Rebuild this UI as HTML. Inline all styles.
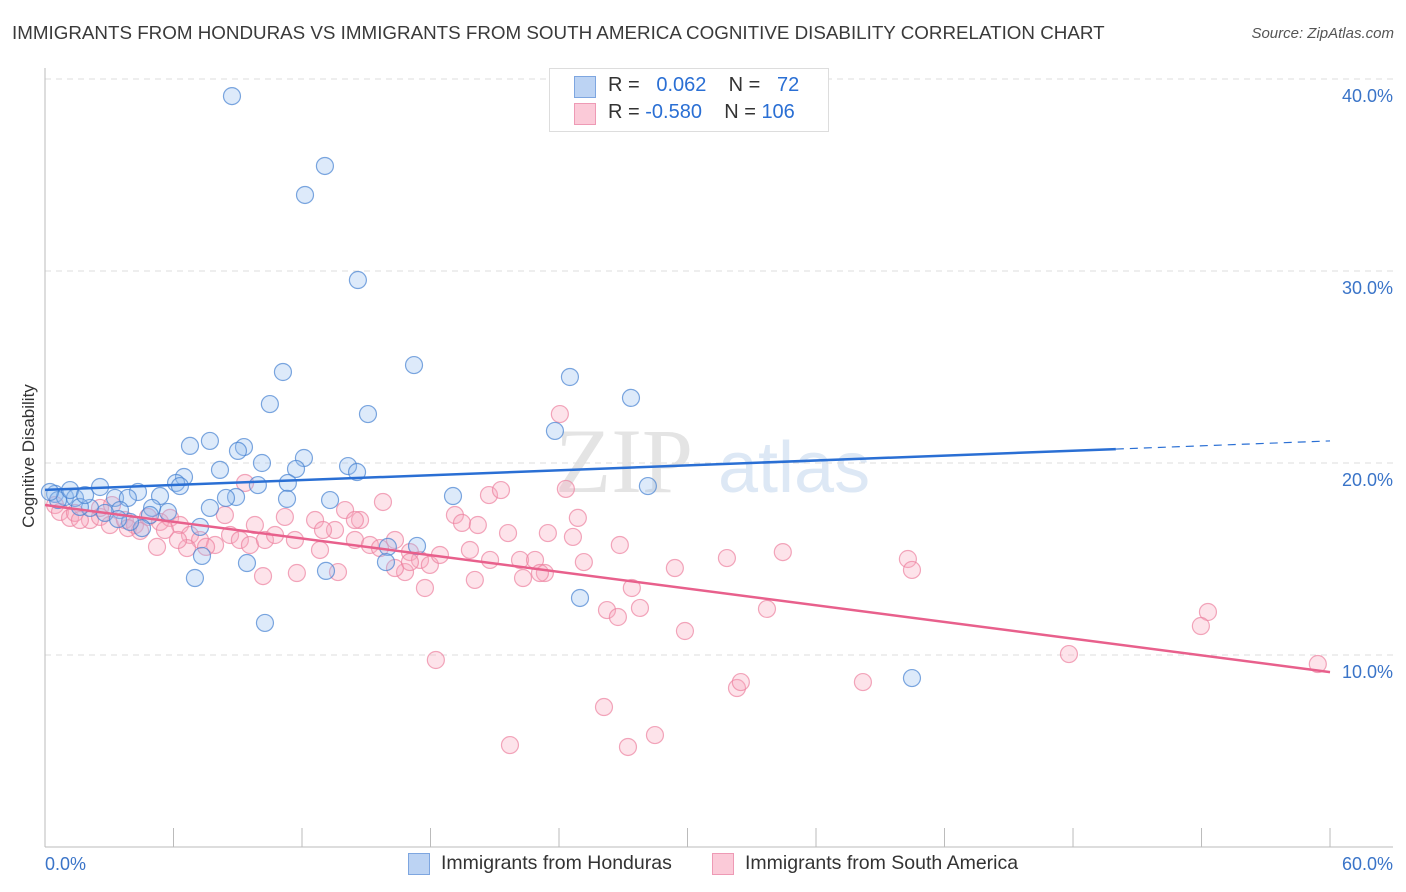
<!DOCTYPE html>
<html><head><meta charset="utf-8">
<style>
body{margin:0;background:#fff;font-family:"Liberation Sans",sans-serif;}
#wrap{position:relative;width:1406px;height:892px;overflow:hidden;}
.t{position:absolute;white-space:nowrap;}
</style></head>
<body>
<div id="wrap">
<div class="t" style="left:12px;top:22px;font-size:18.8px;color:#3a3a3a">IMMIGRANTS FROM HONDURAS VS IMMIGRANTS FROM SOUTH AMERICA COGNITIVE DISABILITY CORRELATION CHART</div>
<div class="t" style="right:12px;top:25px;font-size:15px;color:#555;font-style:italic">Source: ZipAtlas.com</div>
<svg id="plot" width="1406" height="892" style="position:absolute;left:0;top:0"></svg>
</div>
<script>
const xTicks=[0,6,12,18,24,30,36,42,48,54,60];
const yTicks=[10,20,30,40];
const blueX=[8.73,13.07,12.14,14.61,17.23,11.11,24.51,10.50,27.36,15.08,23.81,6.77,7.70,9.29,9.01,12.09,10.13,14.15,11.72,14.57,8.17,6.49,6.12,6.30,2.57,4.34,5.37,9.94,11.34,8.92,8.45,11.30,13.31,19.05,28.15,0.47,0.93,1.40,0.61,3.27,3.87,7.70,5.74,5.00,3.50,2.10,1.63,4.90,2.80,4.53,3.97,7.24,3.41,16.01,17.37,9.43,7.33,7.00,13.12,15.92,24.98,10.27,40.48,0.23,1.17,1.87];
const blueY=[39.11,35.47,33.96,29.53,25.10,24.74,24.48,23.07,23.39,22.55,21.67,20.89,21.15,20.83,20.63,20.26,20.00,19.84,19.69,19.53,19.64,19.27,18.96,18.80,18.75,18.49,18.28,18.85,18.96,18.23,18.18,18.13,18.07,18.28,18.80,18.39,18.23,18.18,18.07,18.18,18.18,17.66,17.45,17.66,17.55,17.66,17.71,17.29,17.40,16.61,16.93,16.67,17.08,15.63,15.68,14.79,15.16,14.01,14.38,14.84,12.97,11.67,8.80,18.49,18.59,18.33];
const pinkX=[24.04,9.34,15.78,20.73,21.29,24.32,0.47,0.70,1.17,1.40,2.10,2.57,3.03,3.73,4.20,4.81,5.37,5.84,6.30,6.77,7.24,7.94,8.40,8.64,9.10,9.57,9.80,10.27,10.74,11.20,11.67,12.61,12.84,13.54,14.01,14.47,14.71,15.17,15.64,16.34,16.81,17.04,17.51,17.97,18.44,19.14,19.47,20.21,20.78,21.62,22.18,22.88,23.34,23.48,24.65,24.88,25.16,26.84,27.40,27.78,26.24,26.75,29.41,29.88,31.84,34.45,33.71,40.29,40.48,47.81,54.30,53.97,59.43,18.25,21.71,26.10,27.22,28.48,32.31,32.49,38.19,17.74,20.07,22.32,23.11,11.76,10.18,5.23,6.63,7.52,13.68,12.98,14.47,16.34,17.04,19.84,3.87,4.44,1.63,2.57,3.13,5.60,6.21];
const pinkY=[22.55,18.96,17.97,18.33,18.59,18.65,17.81,17.45,17.14,17.40,17.03,17.19,16.77,17.03,16.77,17.19,16.93,17.14,16.77,16.25,15.99,15.73,17.29,16.25,15.99,15.73,16.77,15.99,16.25,17.19,15.99,17.03,15.47,16.51,17.55,15.99,17.03,15.73,15.57,15.99,14.32,15.36,14.95,14.69,15.21,17.29,16.88,16.77,14.95,16.35,14.95,14.95,14.27,16.35,16.15,17.14,14.84,15.73,13.49,12.45,12.34,11.98,14.53,11.25,15.05,15.36,12.40,15.00,14.43,10.05,12.24,11.51,9.53,9.74,5.31,7.29,5.21,5.83,8.28,8.59,8.59,13.49,13.91,14.01,14.27,14.27,14.11,15.63,15.57,15.63,14.32,16.51,17.03,14.53,14.84,15.47,16.61,16.46,17.03,17.66,17.81,16.51,15.99];
const blueTrend=[18.6,21.15];
const pinkTrend=[17.81,9.11];

const NS="http://www.w3.org/2000/svg";
const svg=document.getElementById('plot');
const X=v=>45+v*21.417;
const Y=v=>847-v*19.2;
function mk(tag,attrs,parent){const e=document.createElementNS(NS,tag);for(const k in attrs)e.setAttribute(k,attrs[k]);(parent||svg).appendChild(e);return e;}

let wm=mk('text',{x:555,y:492,'font-size':'92','font-family':'Liberation Serif,serif',fill:'#e4e4e4'});wm.textContent='ZIP';


let wm2=mk('text',{x:718,y:492,'font-size':'72','font-family':'Liberation Sans,sans-serif',fill:'#dde8f5'});wm2.textContent='atlas';



yTicks.forEach(v=>{
 const g=mk('line',{x1:45,x2:1393,y1:Y(v),y2:Y(v),stroke:'#dedede','stroke-dasharray':'6,5'});
 
 
 const t=mk('text',{x:1393,y:Y(v)+23,'text-anchor':'end','font-size':'18',fill:'#3a74c8'});t.textContent=v.toFixed(1)+'%';
 
 
});
mk('line',{x1:45,x2:45,y1:68,y2:847,stroke:'#bbb'});
mk('line',{x1:45,x2:1393,y1:847,y2:847,stroke:'#bbb'});
xTicks.forEach(v=>{
 const l=mk('line',{x1:X(v),x2:X(v),y1:828,y2:847,stroke:'#bbb'});
 
 
});
let xl=mk('text',{x:45,y:870,'font-size':'18',fill:'#3a74c8'});xl.textContent=xTicks[0].toFixed(1)+'%';


let xr=mk('text',{x:1393,y:870,'text-anchor':'end','font-size':'18',fill:'#3a74c8'});xr.textContent=xTicks[xTicks.length-1].toFixed(1)+'%';


let yt=mk('text',{x:34,y:456,'text-anchor':'middle','font-size':'17',fill:'#333',transform:'rotate(-90 34 456)'});yt.textContent='Cognitive Disability';



pinkX.forEach((x,i)=>{
 const c=mk('circle',{cx:X(x),cy:Y(pinkY[i]),r:8.5,fill:'rgba(248,168,190,0.32)',stroke:'rgba(236,130,160,0.7)','stroke-width':1.2});
 
 
});
blueX.forEach((x,i)=>{
 const c=mk('circle',{cx:X(x),cy:Y(blueY[i]),r:8.5,fill:'rgba(150,190,240,0.32)',stroke:'rgba(70,130,210,0.7)','stroke-width':1.2});
 
 
});
const bAt=v=>blueTrend[0]+(blueTrend[1]-blueTrend[0])*v/60;
let bl=mk('line',{x1:X(0),y1:Y(bAt(0)),x2:X(50),y2:Y(bAt(50)),stroke:'#2a6fd4','stroke-width':2.5});


let bd=mk('line',{x1:X(50),y1:Y(bAt(50)),x2:X(60),y2:Y(bAt(60)),stroke:'#2a6fd4','stroke-width':1.2,'stroke-dasharray':'8,6'});


let pl=mk('line',{x1:X(0),y1:Y(pinkTrend[0]),x2:X(60),y2:Y(pinkTrend[1]),stroke:'#e8608c','stroke-width':2.5});


</script>

<div class="t" style="left:549px;top:68px;width:278px;height:62px;border:1px solid #ddd;background:#fff">
 <div style="position:absolute;left:24px;top:7px;width:20px;height:20px;background:#bcd3f3;border:1px solid #7ea6e0"></div>
 <div style="position:absolute;left:24px;top:34px;width:20px;height:20px;background:#fbcad8;border:1px solid #ee9ab5"></div>
 <div class="t" style="left:58px;top:5px;font-size:20px;color:#333">R = &nbsp;<span style="color:#2a6fd4">&nbsp;0.062</span>&nbsp;&nbsp;&nbsp; N = &nbsp;&nbsp;<span style="color:#2a6fd4">72</span></div>
 <div class="t" style="left:58px;top:32px;font-size:20px;color:#333">R = <span style="color:#2a6fd4">-0.580</span>&nbsp;&nbsp;&nbsp; N = <span style="color:#2a6fd4">106</span></div>
</div>
<div class="t" style="left:408px;top:853px;width:20px;height:20px;background:#bcd3f3;border:1px solid #7ea6e0"></div>
<div class="t" style="left:441px;top:852px;font-size:19.5px;color:#333">Immigrants from Honduras</div>
<div class="t" style="left:712px;top:853px;width:20px;height:20px;background:#fbcad8;border:1px solid #ee9ab5"></div>
<div class="t" style="left:745px;top:852px;font-size:19.5px;color:#333">Immigrants from South America</div>
</body></html>
